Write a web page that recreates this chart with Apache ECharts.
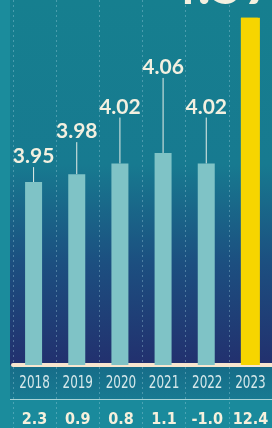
<!DOCTYPE html>
<html><head><meta charset="utf-8">
<script src="https://cdn.jsdelivr.net/npm/echarts@6/dist/echarts.min.js"></script>
<style>html,body{margin:0;padding:0;background:#1b8c9c}#c{width:272px;height:428px}</style>
</head><body><div id="c"></div>
<script>
const years = ['2018','2019','2020','2021','2022','2023'];
const barValues = [3.95, 3.98, 4.02, 4.06, 4.02, 4.57];
const barLabels = ['3.95','3.98','4.02','4.06','4.02','4.57'];
const growth = ['2.3','0.9','0.8','1.1','-1.0','12.4'];

// label lifts (style only)
const labelLift = [-10, -27, -41, -70, -41, 0];

const chart = echarts.init(document.getElementById('c'), null, {renderer:'canvas'});
const numFont = 'Lato, "Noto Sans", sans-serif';
const narrow = '"DejaVu Sans Condensed", "DejaVu Sans", sans-serif';
const lastIdx = barValues.length - 1;

const seriesData = barValues.map((v,i)=>{
  const d = {value:v, itemStyle:{color: i===lastIdx ? '#f6d500' : '#7fc3c6'}};
  if (i===lastIdx) { d.label = {show:false}; d.labelLine = {show:false}; }
  return d;
});

chart.setOption({
  backgroundColor:'#1b8c9c',
  animation:false,
  graphic:[
    {type:'rect', z:-10, shape:{x:10,y:0,width:262,height:365},
     style:{fill:new echarts.graphic.LinearGradient(0,0,0,1,[
       {offset:0,color:'#167f8f'},{offset:0.45,color:'#177a90'},
       {offset:0.72,color:'#1c4f80'},{offset:1,color:'#22306e'}])}},
    {type:'rect', z:-10, shape:{x:10,y:365,width:262,height:34},
     style:{fill:new echarts.graphic.LinearGradient(0,0,0,1,[
       {offset:0,color:'#166c88'},{offset:1,color:'#187a92'}])}},
    {type:'rect', z:-10, shape:{x:10,y:399,width:262,height:29},
     style:{fill:'#1a8a9c'}},
    {type:'line', z:5, shape:{x1:10,y1:399.5,x2:272,y2:399.5},
     style:{stroke:'rgba(215,235,235,0.75)', lineWidth:1}}
  ],
  grid:[
    {left:13,right:0,top:0,bottom:63},
    {left:13,right:0,top:367,bottom:0}
  ],
  xAxis:[
    {type:'category', gridIndex:0, data:years,
     axisLine:{show:true, lineStyle:{color:'#f8e6cf', width:4}},
     axisTick:{show:false}, axisLabel:{show:false},
     splitLine:{show:true, lineStyle:{color:'rgba(170,215,230,0.35)', type:[2,3], width:1}}},
    {type:'category', gridIndex:1, data:years,
     axisLine:{show:false}, axisTick:{show:false}, axisLabel:{show:false},
     splitLine:{show:true, lineStyle:{color:'rgba(170,215,230,0.35)', type:[2,3], width:1}}}
  ],
  yAxis:[
    {type:'value', gridIndex:0, min:3.26, max:4.637, show:false},
    {type:'value', gridIndex:1, min:0, max:1, show:false}
  ],
  series:[{
    type:'bar', xAxisIndex:0, yAxisIndex:0,
    data:seriesData, barWidth:17,
    label:{show:true, position:'top', distance:5,
      formatter:p=>barLabels[p.dataIndex],
      fontFamily:numFont, fontSize:21, fontWeight:'bold', color:'#f3f0e0'},
    labelLine:{show:true, lineStyle:{color:'#e8efe8', width:1}},
    labelLayout:p=>({dy: labelLift[p.dataIndex]})
  },{
    type:'bar', xAxisIndex:0, yAxisIndex:0, barGap:'-100%',
    data:barValues.map((v,i)=> i===lastIdx ? v : '-'),
    barWidth:19, itemStyle:{color:'#f6d500'}, z:3,
    label:{show:true, position:['50%', -32], align:'center', verticalAlign:'middle',
      offset:[-30,0],
      formatter:p=>barLabels[p.dataIndex],
      fontFamily:numFont, fontSize:56, fontWeight:'bold', color:'#f3f0e0'}
  },{
    type:'custom', xAxisIndex:1, yAxisIndex:1,
    data:years.map((y,i)=>[i,1]),
    renderItem:(params, api)=>{
      const i = api.value(0);
      const p = api.coord([i, 1]);
      return {type:'group', children:[
        {type:'text', x:p[0], y:p[1]+16, scaleX:0.74,
         style:{text:years[i], fill:'#d6e8ea', font:'18px '+narrow, align:'center', verticalAlign:'middle'}},
        {type:'text', x:p[0], y:p[1]+53,
         style:{text:growth[i], fill:'#f6f0dc', font:'bold 16px '+narrow, align:'center', verticalAlign:'middle'}}
      ]};
    }
  }]
});
</script></body></html>
